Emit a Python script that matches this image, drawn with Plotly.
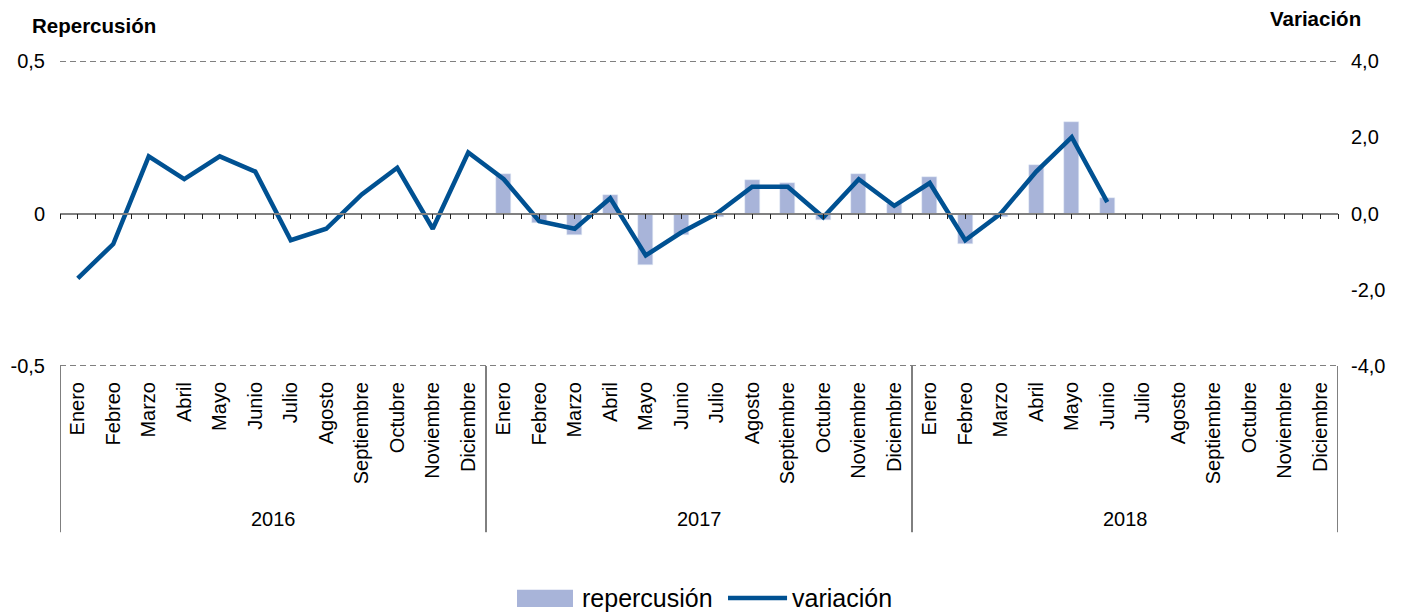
import plotly.graph_objects as go

FONT = "Liberation Sans, Arial, sans-serif"

months = ["Enero", "Febreo", "Marzo", "Abril", "Mayo", "Junio", "Julio", "Agosto",
          "Septiembre", "Octubre", "Noviembre", "Diciembre"]
years = ["2016", "2017", "2018"]

# repercusión (eje izquierdo), solo 2017 y enero-junio 2018
repercusion = [None] * 12 + [
    0.13, -0.03, -0.07, 0.06, -0.17, -0.07, -0.01, 0.11, 0.10, -0.02, 0.13, 0.03,
    0.12, -0.10, -0.01, 0.16, 0.30, 0.05,
] + [None] * 6

# variación (eje derecho), enero 2016 - junio 2018
variacion = [
    -1.7, -0.8, 1.5, 0.9, 1.5, 1.1, -0.7, -0.4, 0.5, 1.2, -0.4, 1.6,
    0.9, -0.2, -0.4, 0.4, -1.1, -0.5, 0.0, 0.7, 0.7, -0.1, 0.9, 0.2,
    0.8, -0.7, 0.0, 1.1, 2.0, 0.3,
] + [None] * 6

left_ticks = [-0.5, 0, 0.5]
left_text = ["-0,5", "0", "0,5"]
right_ticks = [-4, -2, 0, 2, 4]
right_text = ["-4,0", "-2,0", "0,0", "2,0", "4,0"]

ticktext = months * len(years)
xpos = list(range(len(ticktext)))
n = len(xpos)
BAR = "#a8b4d9"
LINE = "#005192"

fig = go.Figure()
fig.add_trace(go.Bar(x=xpos, y=repercusion, name="repercusión", marker_color=BAR,
                     width=0.42, showlegend=False, xaxis="x", yaxis="y"))
fig.add_trace(go.Scatter(x=xpos, y=variacion, name="variación", mode="lines",
                         line=dict(color=LINE, width=4.5), showlegend=False,
                         xaxis="x2", yaxis="y2"))

# the page body has an 8px margin, so the figure is drawn 8px in from the corner
fig.update_layout(
    width=1397, height=605,
    margin=dict(l=52, r=67, t=53, b=247),
    plot_bgcolor="white", paper_bgcolor="white",
    font=dict(family=FONT, size=20, color="black"),
    bargap=0,
    xaxis=dict(range=[-0.5, n - 0.5], tickvals=xpos, ticktext=ticktext, tickangle=-90,
               showgrid=False, zeroline=False, showline=False, ticks="",
               tickfont=dict(size=20), ticklabelstandoff=11, automargin=False),
    xaxis2=dict(range=[-0.5, n - 0.5], overlaying="x", anchor="free", position=0.5,
                tickvals=[i / 2 - 0.5 for i in range(2 * n + 1)], showticklabels=False,
                ticks="outside", ticklen=5, tickcolor="#202020", tickwidth=1,
                showline=True, linecolor="#808080", linewidth=1.8,
                showgrid=False, zeroline=False),
    yaxis=dict(range=[-0.5, 0.5], tickvals=left_ticks, ticktext=left_text,
               showgrid=False, zeroline=False, showline=False, ticks="",
               ticklabelstandoff=14, tickfont=dict(size=20), automargin=False),
    yaxis2=dict(range=[-4, 4], tickvals=right_ticks, ticktext=right_text,
                overlaying="y", anchor="x2", side="right",
                showgrid=False, zeroline=False, showline=False, ticks="",
                ticklabelstandoff=12, tickfont=dict(size=20), automargin=False),
)

# líneas de referencia discontinuas en los extremos del eje izquierdo
for v in (left_ticks[0], left_ticks[-1]):
    fig.add_shape(type="line", xref="paper", yref="y", x0=0, x1=1, y0=v, y1=v,
                  line=dict(color="#808080", width=1.8, dash="6px,4px"), layer="below")

# separadores de años y etiquetas de año
for k in range(len(years) + 1):
    fig.add_shape(type="line", xref="x", yref="paper", x0=k * 12 - 0.5, x1=k * 12 - 0.5,
                  y0=0, y1=-0.545, line=dict(color="black", width=1))
for k, yr in enumerate(years):
    fig.add_annotation(x=k * 12 + 5.5, y=-0.5, xref="x", yref="paper", text=yr,
                       showarrow=False, font=dict(size=20), yanchor="middle")

# títulos de ejes
fig.add_annotation(x=-0.0235, y=1.115, xref="paper", yref="paper", text="<b>Repercusión</b>",
                   showarrow=False, xanchor="left", yanchor="middle", font=dict(size=20.5))
fig.add_annotation(x=1.0196, y=1.138, xref="paper", yref="paper", text="<b>Variación</b>",
                   showarrow=False, xanchor="right", yanchor="middle", font=dict(size=20.5))

# leyenda
fig.add_shape(type="rect", xref="paper", yref="paper", x0=0.3576, x1=0.4014,
              y0=-0.79, y1=-0.734, fillcolor=BAR, line=dict(width=0))
fig.add_annotation(x=0.4069, y=-0.762, xref="paper", yref="paper", text="repercusión",
                   showarrow=False, xanchor="left", yanchor="middle", font=dict(size=25))
fig.add_shape(type="line", xref="paper", yref="paper", x0=0.5227, x1=0.5689,
              y0=-0.7607, y1=-0.7607, line=dict(color=LINE, width=4.5))
fig.add_annotation(x=0.5712, y=-0.762, xref="paper", yref="paper", text="variación",
                   showarrow=False, xanchor="left", yanchor="middle", font=dict(size=25))

fig.write_html("out.html")
